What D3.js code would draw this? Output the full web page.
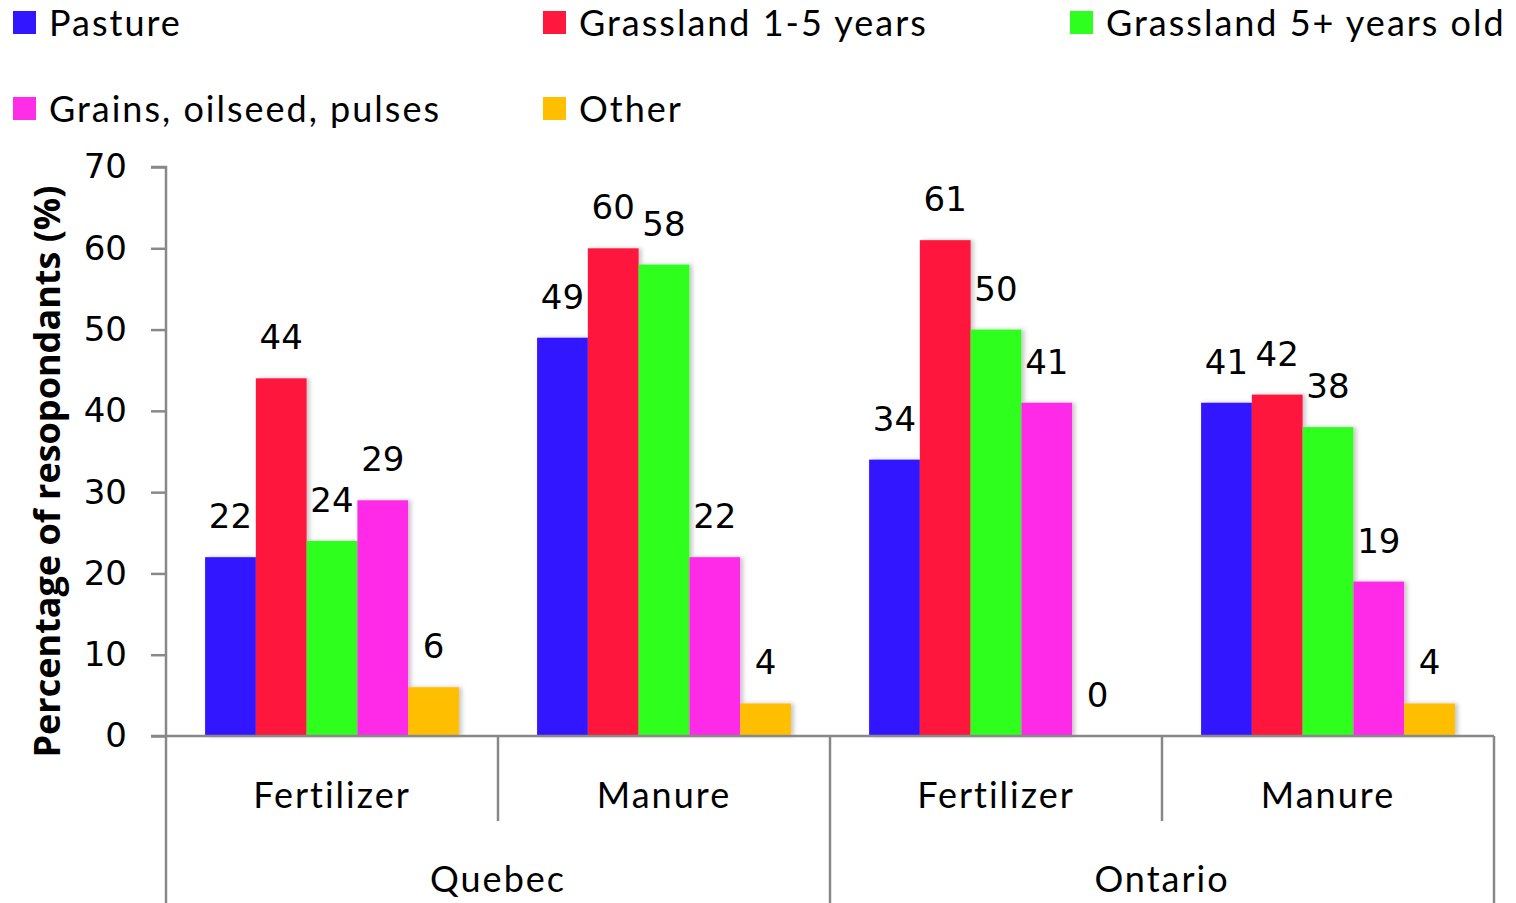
<!DOCTYPE html>
<html>
<head>
<meta charset="utf-8">
<script src="https://cdn.jsdelivr.net/npm/d3@7"></script>
<style>
  body { margin: 0; background: #fff; }
  .tick text { font-family: "DejaVu Sans", sans-serif; }
</style>
</head>
<body>
<div id="chart"></div>
<script>
// chart data
var regions = ["Quebec", "Ontario"];
var sources = ["Fertilizer", "Manure"];
var groups = ["Quebec|Fertilizer", "Quebec|Manure", "Ontario|Fertilizer", "Ontario|Manure"];
var seriesNames = ["Pasture", "Grassland 1-5 years", "Grassland 5+ years old", "Grains, oilseed, pulses", "Other"];
var seriesColors = ["#3116ff", "#ff183d", "#2eff1f", "#ff2ce8", "#ffbf00"];
var pasture = [22, 49, 34, 41];
var grass15 = [44, 60, 61, 42];
var grass5plus = [24, 58, 50, 38];
var grains = [29, 22, 41, 19];
var other = [6, 4, 0, 4];
var yTicks = [0, 10, 20, 30, 40, 50, 60, 70];

var seriesValues = [pasture, grass15, grass5plus, grains, other];

var svgWidth = 1516;
var svgHeight = 903;

var margin = { top: 167, right: 22, bottom: 167, left: 166 };
var width = svgWidth - margin.left - margin.right;
var height = svgHeight - margin.top - margin.bottom;

var svg = d3.select("#chart")
    .append("svg")
    .attr("width", svgWidth)
    .attr("height", svgHeight);

// soft shadow under the bars
var defs = svg.append("defs");
var filt = defs.append("filter").attr("id", "shadow")
    .attr("x", "-10%").attr("y", "-10%").attr("width", "130%").attr("height", "120%");
filt.append("feDropShadow")
    .attr("dx", 3).attr("dy", 0)
    .attr("stdDeviation", 2)
    .attr("flood-color", "#000")
    .attr("flood-opacity", 0.22);

var chartGroup = svg.append("g")
    .attr("transform", `translate(${margin.left}, ${margin.top})`);

var x0 = d3.scaleBand()
    .domain(groups)
    .range([0, width])
    .padding(0);

var x1 = d3.scaleBand()
    .domain(seriesNames)
    .range([0, x0.bandwidth()])
    .paddingInner(0)
    .paddingOuter(0.77);

var yLinearScale = d3.scaleLinear()
    .domain([0, 70])
    .range([height, 0]);

// y axis
var leftAxis = d3.axisLeft(yLinearScale)
    .tickValues(yTicks)
    .tickSize(15)
    .tickPadding(24);

var yAxis = chartGroup.append("g").call(leftAxis);
yAxis.select(".domain").attr("stroke", "#888").attr("stroke-width", 2.5)
    .attr("d", `M0,${height}V0H-15`);
yAxis.selectAll(".tick line").attr("stroke", "#888").attr("stroke-width", 2.5);
yAxis.selectAll(".tick text")
    .attr("font-size", "34px")
    .attr("fill", "#000");

// bars
var barLayer = chartGroup.append("g");
seriesNames.forEach(function(name, si) {
    barLayer.append("g")
        .attr("filter", "url(#shadow)")
        .selectAll("rect")
        .data(seriesValues[si])
        .enter()
        .append("rect")
        .attr("x", (d, i) => x0(groups[i]) + x1(name))
        .attr("y", d => yLinearScale(d))
        .attr("width", x1.bandwidth())
        .attr("height", d => height - yLinearScale(d))
        .attr("fill", seriesColors[si]);
});

// value labels
seriesNames.forEach(function(name, si) {
    chartGroup.append("g").selectAll("text")
        .data(seriesValues[si])
        .enter()
        .append("text")
        .attr("x", (d, i) => x0(groups[i]) + x1(name) + x1.bandwidth() / 2)
        .attr("y", d => yLinearScale(d) - 29)
        .attr("text-anchor", "middle")
        .attr("font-family", "DejaVu Sans, sans-serif")
        .attr("font-size", "34px")
        .attr("fill", "#000")
        .text(d => d);
});

// x axis line and category dividers
var lineColor = "#888";
chartGroup.append("line")
    .attr("x1", -15).attr("x2", width)
    .attr("y1", height).attr("y2", height)
    .attr("stroke", lineColor).attr("stroke-width", 2.5);

groups.forEach(function(g, i) {
    var left = x0(g);
    var isRegionStart = i % 2 === 0;
    chartGroup.append("line")
        .attr("x1", left).attr("x2", left)
        .attr("y1", height).attr("y2", isRegionStart ? svgHeight - margin.top : height + 85)
        .attr("stroke", lineColor).attr("stroke-width", 2.5);
    chartGroup.append("text")
        .attr("x", left + x0.bandwidth() / 2)
        .attr("y", height + 72)
        .attr("text-anchor", "middle")
        .attr("font-family", "Lato, sans-serif")
        .attr("font-size", "36px")
        .attr("letter-spacing", "2px")
        .attr("fill", "#000")
        .text(g.split("|")[1]);
});
chartGroup.append("line")
    .attr("x1", width).attr("x2", width)
    .attr("y1", height).attr("y2", svgHeight - margin.top)
    .attr("stroke", lineColor).attr("stroke-width", 2.5);

regions.forEach(function(r, i) {
    chartGroup.append("text")
        .attr("x", x0(groups[i * 2]) + x0.bandwidth())
        .attr("y", height + 156)
        .attr("text-anchor", "middle")
        .attr("font-family", "Lato, sans-serif")
        .attr("font-size", "36px")
        .attr("letter-spacing", "2px")
        .attr("fill", "#000")
        .text(r);
});

// y axis title
chartGroup.append("text")
    .attr("transform", `translate(${46 - margin.left}, ${height / 2 + 20}) rotate(-90)`)
    .attr("text-anchor", "middle")
    .attr("dominant-baseline", "central")
    .attr("font-family", "Open Sans, sans-serif")
    .attr("font-weight", "bold")
    .attr("font-size", "36px")
    .attr("fill", "#000")
    .text("Percentage of resopondants (%)");

// legend
var legendPos = [[13, 22], [543, 22], [1070, 22], [13, 108], [543, 108]];
var legend = svg.append("g");
seriesNames.forEach(function(name, i) {
    var item = legend.append("g")
        .attr("transform", `translate(${legendPos[i][0]}, ${legendPos[i][1]})`);
    item.append("rect")
        .attr("x", 0).attr("y", -11)
        .attr("width", 23).attr("height", 23)
        .attr("fill", seriesColors[i]);
    item.append("text")
        .attr("x", 36)
        .attr("y", 0)
        .attr("dominant-baseline", "central")
        .attr("font-family", "Lato, sans-serif")
        .attr("font-size", "36px")
        .attr("letter-spacing", "2px")
        .attr("fill", "#000")
        .text(name);
});
</script>
</body>
</html>
